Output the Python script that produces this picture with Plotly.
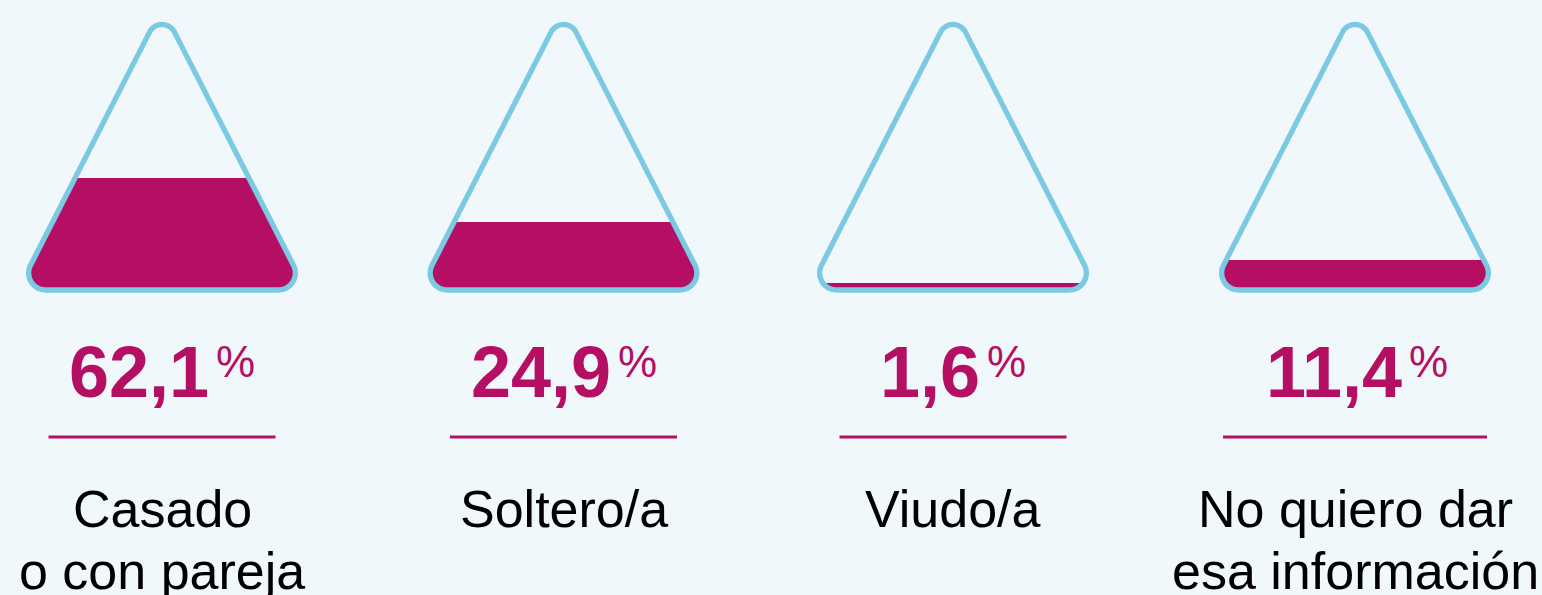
import math
import plotly.graph_objects as go

# ---- data ----
categories = ["Casado\no con pareja", "Soltero/a", "Viudo/a", "No quiero dar\nesa información"]
values = [62.1, 24.9, 1.6, 11.4]
# fill level of each flask, as a fraction of the flask height
fill_fraction = [0.422, 0.256, 0.026, 0.113]

# ---- layout / style ----
W, H = 1542, 595
BG = "#F1F8FC"
STROKE = "#7BC9E3"
MAGENTA = "#B50F63"
centers = [162, 563.5, 953, 1355]
underline_half = [113.5, 113.5, 113.5, 132]
APEX_Y, BASE_Y, HALF_W = 7.7, 290.0, 144.1
RADII = [14.0, 17.0, 17.0]  # apex, bottom-right, bottom-left
TOP_Y = 24.5  # top of the rounded apex
FONT = "Liberation Sans, Arial, Helvetica, sans-serif"
NUM_SIZE, PCT_SIZE, GAP = 72, 44, 5
# Arial/Liberation advance widths (em)
ADV_BOLD = {c: 0.556 for c in "0123456789"}
ADV_BOLD[","] = 0.278
PCT_ADV = 0.889


def rounded_triangle(cx, n=24):
    pts = [(cx, APEX_Y), (cx + HALF_W, BASE_Y), (cx - HALF_W, BASE_Y)]
    out = []
    for i in range(3):
        r = RADII[i]
        px, py = pts[i - 1]
        cx_, cy_ = pts[i]
        nx, ny = pts[(i + 1) % 3]
        u1 = (px - cx_, py - cy_)
        l1 = math.hypot(*u1)
        u1 = (u1[0] / l1, u1[1] / l1)
        u2 = (nx - cx_, ny - cy_)
        l2 = math.hypot(*u2)
        u2 = (u2[0] / l2, u2[1] / l2)
        half = math.acos(u1[0] * u2[0] + u1[1] * u2[1]) / 2
        d = r / math.tan(half)
        t1 = (cx_ + u1[0] * d, cy_ + u1[1] * d)
        t2 = (cx_ + u2[0] * d, cy_ + u2[1] * d)
        b = (u1[0] + u2[0], u1[1] + u2[1])
        lb = math.hypot(*b)
        b = (b[0] / lb, b[1] / lb)
        dc = r / math.sin(half)
        c = (cx_ + b[0] * dc, cy_ + b[1] * dc)
        a1 = math.atan2(t1[1] - c[1], t1[0] - c[0])
        a2 = math.atan2(t2[1] - c[1], t2[0] - c[0])
        da = a2 - a1
        while da > math.pi:
            da -= 2 * math.pi
        while da < -math.pi:
            da += 2 * math.pi
        for k in range(n + 1):
            a = a1 + da * k / n
            out.append((c[0] + r * math.cos(a), c[1] + r * math.sin(a)))
    return out


def clip_below(poly, level):
    # keep the part with y >= level (screen coordinates, y grows downward)
    res = []
    m = len(poly)
    for i in range(m):
        a = poly[i]
        b = poly[(i + 1) % m]
        ina = a[1] >= level
        inb = b[1] >= level
        if ina:
            res.append(a)
        if ina != inb:
            t = (level - a[1]) / (b[1] - a[1])
            res.append((a[0] + t * (b[0] - a[0]), level))
    return res


fig = go.Figure()
annotations = []

for i, (cat, val, frac, cx) in enumerate(zip(categories, values, fill_fraction, centers)):
    poly = rounded_triangle(cx)
    level = BASE_Y - frac * (BASE_Y - TOP_Y)
    liquid = clip_below(poly, level)
    if liquid:
        fig.add_trace(go.Scatter(
            x=[p[0] for p in liquid] + [liquid[0][0]],
            y=[p[1] for p in liquid] + [liquid[0][1]],
            mode="lines", fill="toself", fillcolor=MAGENTA,
            line=dict(width=0, color=MAGENTA, simplify=False),
            hoverinfo="skip", showlegend=False))
    fig.add_trace(go.Scatter(
        x=[p[0] for p in poly] + [poly[0][0]],
        y=[p[1] for p in poly] + [poly[0][1]],
        mode="lines", line=dict(width=5.3, color=STROKE, simplify=False),
        hoverinfo="skip", showlegend=False))
    # underline
    fig.add_trace(go.Scatter(
        x=[cx - underline_half[i], cx + underline_half[i]], y=[437, 437],
        mode="lines", line=dict(width=3, color=MAGENTA),
        hoverinfo="skip", showlegend=False))
    # value + superscript percent sign, centred together
    txt = f"{val:.1f}".replace(".", ",")
    num_w = sum(ADV_BOLD[c] for c in txt) * NUM_SIZE
    pct_w = PCT_ADV * PCT_SIZE
    left = cx - (num_w + GAP + pct_w) / 2
    annotations.append(dict(
        x=left + num_w, y=372, xref="x", yref="y", showarrow=False,
        text=f"<b>{txt}</b>",
        font=dict(family=FONT, size=NUM_SIZE, color=MAGENTA),
        xanchor="right", yanchor="middle", borderpad=0))
    annotations.append(dict(
        x=left + num_w + GAP, y=361, xref="x", yref="y", showarrow=False,
        text="%", font=dict(family=FONT, size=PCT_SIZE, color=MAGENTA),
        xanchor="left", yanchor="middle", borderpad=0))
    # label lines
    for j, line in enumerate(cat.split("\n")):
        annotations.append(dict(
            x=cx, y=509 + 62 * j, xref="x", yref="y", showarrow=False,
            text=line, font=dict(family=FONT, size=52, color="#000000"),
            xanchor="center", yanchor="middle"))

fig.update_layout(
    width=W, height=H, autosize=False,
    margin=dict(l=0, r=0, t=0, b=0),
    paper_bgcolor=BG, plot_bgcolor=BG,
    xaxis=dict(range=[0, W], visible=False, fixedrange=True),
    yaxis=dict(range=[H, 0], visible=False, fixedrange=True),
    annotations=annotations,
    showlegend=False,
)

fig.write_html("out.html", config={"displayModeBar": False},
               post_script="document.body.style.margin='0';document.body.style.overflow='hidden';")
